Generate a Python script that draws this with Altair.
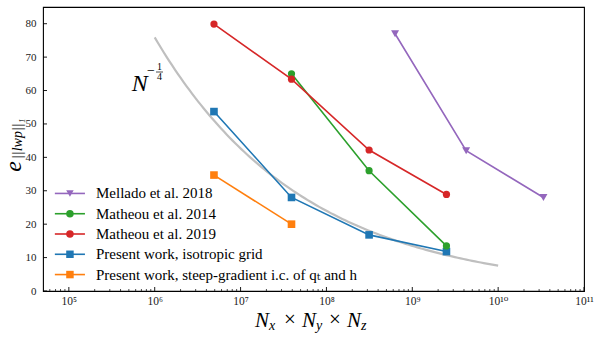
import altair as alt
import numpy as np
import pandas as pd

# ---- data: grid size N = Nx*Ny*Nz and L1 error of liquid water path ----
mellado_n = [6.3e8, 4.24e9, 3.37e10]
mellado_e = [77.0, 42.0, 28.0]

matheou14_n = [3.92e7, 3.14e8, 2.5e9]
matheou14_e = [65.0, 36.0, 13.5]

matheou19_n = [4.9e6, 3.92e7, 3.14e8, 2.5e9]
matheou19_e = [79.9, 63.4, 42.2, 28.9]

iso_n = [4.9e6, 3.92e7, 3.14e8, 2.5e9]
iso_e = [53.7, 28.0, 16.8, 11.8]

steep_n = [4.9e6, 3.92e7]
steep_e = [34.7, 20.0]

series_labels = [
    "Mellado et al. 2018",
    "Matheou et al. 2014",
    "Matheou et al. 2019",
    "Present work, isotropic grid",
    "Present work, steep-gradient i.c. of qₜ and h",
]
series_colors = ["#9467bd", "#2ca02c", "#d62728", "#1f77b4", "#ff7f0e"]
series_shapes = ["triangle-down", "circle", "circle", "square", "square"]
series_n = [mellado_n, matheou14_n, matheou19_n, iso_n, steep_n]
series_e = [mellado_e, matheou14_e, matheou19_e, iso_e, steep_e]

# reference slope C * N^(-1/4)
ref_coef = 2400.0
ref_n = np.logspace(6, 10, 120)
ref_e = ref_coef * ref_n ** (-0.25)

major_x = [1e5, 1e6, 1e7, 1e8, 1e9, 1e10, 1e11]
minor_x = [m * 10.0 ** k for k in range(4, 11) for m in range(2, 10)
           if 5e4 < m * 10.0 ** k < 1e11]
major_y = [0, 10, 20, 30, 40, 50, 60, 70, 80]

W, H = 541, 284
SERIF = "Liberation Serif, DejaVu Serif, serif"

xscale = alt.Scale(type="log", domain=[5e4, 1e11], nice=False)
yscale = alt.Scale(domain=[0, 85], nice=False)

sup = str.maketrans("0123456789", "⁰¹²³⁴⁵⁶⁷⁸⁹")
label_expr = " : ".join(
    f"datum.value == {v:.0f} ? '10{str(int(round(np.log10(v)))).translate(sup)}'"
    for v in major_x
) + " : ''"

# one axis definition shared by every layer so they merge into a single axis
xaxis = alt.Axis(values=major_x, labelExpr=label_expr, tickSize=0, title=None,
                 domain=False, grid=False, labelPadding=4, labelFont=SERIF,
                 labelFontSize=11.5, labelColor="#222", labelFlush=False)
yaxis = alt.Axis(values=major_y, tickSize=0, title=None, domain=False, grid=False,
                 labelPadding=7, labelFont=SERIF, labelFontSize=11,
                 labelColor="#222")


def X(field):
    return alt.X(field, scale=xscale, axis=xaxis)


def Y(field):
    return alt.Y(field, scale=yscale, axis=yaxis)


# ---- reference curve ----
ref = alt.Chart(pd.DataFrame({"n": ref_n, "e": ref_e})).mark_line(
    color="#bfbfbf", strokeWidth=2.2
).encode(x=X("n:Q"), y=Y("e:Q"))

layers = [ref]

# ---- data series: line + markers, drawn in z-order ----
draw_order = [3, 4, 1, 2, 0]
marker_size = {"circle": 52, "square": 58, "triangle-down": 64}
for i in draw_order:
    df = pd.DataFrame({"n": series_n[i], "e": series_e[i]})
    base = alt.Chart(df).encode(x=X("n:Q"), y=Y("e:Q"))
    layers.append(base.mark_line(color=series_colors[i], strokeWidth=1.6))
    layers.append(base.mark_point(
        shape=series_shapes[i], filled=True, opacity=1,
        color=series_colors[i], size=marker_size[series_shapes[i]]))

# ---- inward ticks ----
tick_x_major = alt.Chart(pd.DataFrame({"n": major_x})).mark_rule(
    color="black", strokeWidth=0.9
).encode(x=X("n:Q"), y=alt.value(H), y2=alt.value(H - 4))
tick_x_minor = alt.Chart(pd.DataFrame({"n": minor_x})).mark_rule(
    color="black", strokeWidth=0.7
).encode(x=X("n:Q"), y=alt.value(H), y2=alt.value(H - 2))
tick_y = alt.Chart(pd.DataFrame({"e": major_y})).mark_rule(
    color="black", strokeWidth=0.9
).encode(y=Y("e:Q"), x=alt.value(0), x2=alt.value(4))
layers += [tick_x_major, tick_x_minor, tick_y]

# ---- legend (lower left, positioned in data units) ----
leg_df = pd.DataFrame({
    "label": series_labels,
    "color": series_colors,
    "shape": series_shapes,
    "idx": list(range(len(series_labels))),
})
leg_y0, leg_dy = 29.2, 6.07
leg_x0, leg_x1, leg_xm, leg_xt = 6.87e4, 1.54e5, 1.03e5, 2.07e5
leg = alt.Chart(leg_df).transform_calculate(
    ly=f"{leg_y0} - {leg_dy} * datum.idx",
    lx0=f"{leg_x0}", lx1=f"{leg_x1}", lxm=f"{leg_xm}", lxt=f"{leg_xt}",
)
leg_line = leg.mark_rule(strokeWidth=1.6).encode(
    x=X("lx0:Q"), x2="lx1:Q", y=Y("ly:Q"),
    color=alt.Color("color:N", scale=None),
)
leg_pt = leg.mark_point(filled=True, opacity=1, size=56).encode(
    x=X("lxm:Q"), y=Y("ly:Q"),
    color=alt.Color("color:N", scale=None),
    shape=alt.Shape("shape:N", scale=None),
)
leg_txt = leg.mark_text(align="left", baseline="middle", font=SERIF,
                        fontSize=15, color="black").encode(
    x=X("lxt:Q"), y=Y("ly:Q"), text="label:N",
)
layers += [leg_line, leg_pt, leg_txt]


# ---- text helpers for titles / annotation (pixel positions in the plot frame) ----
def label(txt, x, y, size, italic=False, align="left", baseline="alphabetic", angle=0):
    kw = dict(text=txt, font=SERIF, fontSize=size, align=align, baseline=baseline,
              color="black")
    if italic:
        kw["fontStyle"] = "italic"
    if angle:
        kw["angle"] = angle
    return alt.Chart(pd.DataFrame({"k": [0]})).mark_text(**kw).encode(
        x=alt.value(x), y=alt.value(y))


# N^(-1/4) annotation
layers += [
    label("N", 88.7, 84, 24, italic=True),
    label("−", 108, 64, 14, align="center", baseline="middle"),
    label("1", 116.5, 63, 10, align="center"),
    label("4", 116.5, 72.5, 10, align="center"),
    alt.Chart(pd.DataFrame({"k": [0]})).mark_rule(color="black", strokeWidth=0.7).encode(
        x=alt.value(113), x2=alt.value(120), y=alt.value(65)),
]

# x-axis title  N_x × N_y × N_z
layers += [
    label("N", 212, 320, 21, italic=True),
    label("x", 226, 323, 14, italic=True),
    label("×", 247, 319, 21, align="center"),
    label("N", 259, 320, 21, italic=True),
    label("y", 273, 323, 14, italic=True),
    label("×", 292, 319, 21, align="center"),
    label("N", 304, 320, 21, italic=True),
    label("z", 318, 323, 14, italic=True),
]

# y-axis title  e_{||lwp||_1}
layers += [
    label("e", -29.5, 159.5, 24, italic=True, align="center", baseline="middle", angle=270),
    label("||lwp||₁", -25.5, 152, 14, italic=True, align="left", baseline="middle", angle=270),
]

chart = alt.layer(*layers).properties(
    width=W, height=H,
    padding={"left": 43, "top": 7, "right": 17, "bottom": 46},
    autosize=alt.AutoSizeParams(type="none"),
).configure_view(stroke="black", strokeWidth=1.1)

chart.save("out.html", embed_options={"renderer": "svg", "actions": False})
